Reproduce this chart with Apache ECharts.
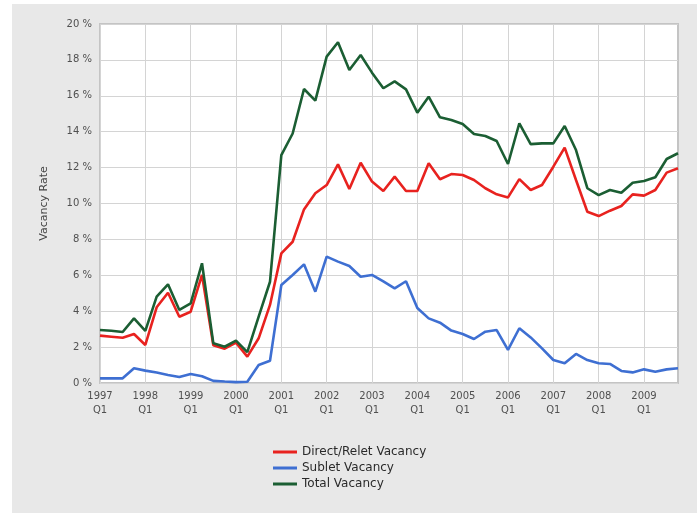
<!DOCTYPE html>
<html>
<head>
<meta charset="utf-8">
<script src="https://cdn.jsdelivr.net/npm/echarts@6/dist/echarts.min.js"></script>
<style>
html,body{margin:0;padding:0;background:#fff;}
#chart{width:697px;height:519px;}
</style>
</head>
<body>
<div id="chart"></div>
<script>
var categories = [
 "1997 Q1","1997 Q2","1997 Q3","1997 Q4","1998 Q1","1998 Q2","1998 Q3","1998 Q4",
 "1999 Q1","1999 Q2","1999 Q3","1999 Q4","2000 Q1","2000 Q2","2000 Q3","2000 Q4",
 "2001 Q1","2001 Q2","2001 Q3","2001 Q4","2002 Q1","2002 Q2","2002 Q3","2002 Q4",
 "2003 Q1","2003 Q2","2003 Q3","2003 Q4","2004 Q1","2004 Q2","2004 Q3","2004 Q4",
 "2005 Q1","2005 Q2","2005 Q3","2005 Q4","2006 Q1","2006 Q2","2006 Q3","2006 Q4",
 "2007 Q1","2007 Q2","2007 Q3","2007 Q4","2008 Q1","2008 Q2","2008 Q3","2008 Q4",
 "2009 Q1","2009 Q2","2009 Q3","2009 Q4"
];
var directRelet = [2.64,2.58,2.52,2.73,2.12,4.22,5.03,3.69,3.97,6.02,
 2.1,1.91,2.25,1.47,2.49,4.35,7.22,7.87,9.67,10.57,
 11.03,12.18,10.81,12.27,11.22,10.7,11.5,10.7,10.7,12.24,
 11.35,11.64,11.59,11.31,10.85,10.51,10.34,11.36,10.75,11.03,
 12.05,13.11,11.31,9.54,9.3,9.6,9.86,10.51,10.44,10.75,
 11.72,11.96];
var sublet = [0.26,0.26,0.26,0.82,0.69,0.58,0.45,0.33,0.5,0.38,
 0.12,0.08,0.05,0.07,1.0,1.24,5.46,6.02,6.61,5.09,
 7.04,6.76,6.52,5.92,6.02,5.66,5.27,5.67,4.18,3.6,
 3.36,2.92,2.73,2.45,2.86,2.95,1.84,3.05,2.54,1.93,
 1.28,1.1,1.62,1.28,1.1,1.06,0.67,0.59,0.76,0.63,
 0.76,0.82];
var total = [2.95,2.91,2.84,3.6,2.9,4.81,5.5,4.07,4.44,6.67,
 2.21,2.02,2.36,1.72,3.7,5.64,12.7,13.9,16.38,15.73,
 18.18,18.98,17.44,18.27,17.29,16.42,16.8,16.36,15.06,15.95,
 14.8,14.65,14.43,13.87,13.76,13.48,12.2,14.47,13.31,13.35,
 13.35,14.32,12.98,10.85,10.47,10.75,10.6,11.16,11.25,11.46,
 12.48,12.8];
var seriesNames = ["Direct/Relet Vacancy","Sublet Vacancy","Total Vacancy"];
var yTicks = {min:0, max:20, interval:2};

var chart = echarts.init(document.getElementById('chart'), null, {renderer:'canvas'});
var font = 'DejaVu Sans, Verdana, sans-serif';
function mk(name, data, color){
  return {name:name, type:'line', data:data, showSymbol:false, symbol:'none',
    lineStyle:{color:color, width:2.6}, itemStyle:{color:color}, animation:false, z:2};
}
chart.setOption({
  animation:false,
  backgroundColor:'#ffffff',
  graphic:[{type:'rect', z:-10, silent:true, shape:{x:12,y:4,width:685,height:509}, style:{fill:'#e8e8e8'}}],
  grid:{left:100, top:24, width:578, height:359, show:true, backgroundColor:'#ffffff', borderColor:'#c4c4c4', borderWidth:2, containLabel:false},
  legend:{
    data:seriesNames, orient:'vertical', left:268, top:440,
    icon:'rect', itemWidth:24, itemHeight:3, itemGap:2,
    textStyle:{fontFamily:font, fontSize:12, color:'#2a2a2a', lineHeight:14}
  },
  xAxis:{
    type:'category', data:categories, boundaryGap:false,
    axisLine:{show:false}, axisTick:{show:false},
    axisLabel:{interval:3, fontFamily:font, fontSize:10, color:'#505050', lineHeight:14, margin:6,
      formatter:function(v){return v.replace(' ', '\n');}},
    splitLine:{show:true, interval:3, lineStyle:{color:'#d4d4d4', width:1}}
  },
  yAxis:{
    type:'value', min:yTicks.min, max:yTicks.max, interval:yTicks.interval,
    name:'Vacancy Rate', nameLocation:'middle', nameGap:50, nameRotate:90,
    nameTextStyle:{fontFamily:font, fontSize:11, color:'#444'},
    axisLine:{show:false}, axisTick:{show:false},
    axisLabel:{formatter:'{value} %', fontFamily:font, fontSize:10, color:'#505050', margin:8},
    splitLine:{show:true, lineStyle:{color:'#d4d4d4', width:1}}
  },
  series:[
    mk(seriesNames[0], directRelet, '#e8221f'),
    mk(seriesNames[1], sublet, '#3e6fd2'),
    mk(seriesNames[2], total, '#1b5e33')
  ]
});
</script>
</body>
</html>
